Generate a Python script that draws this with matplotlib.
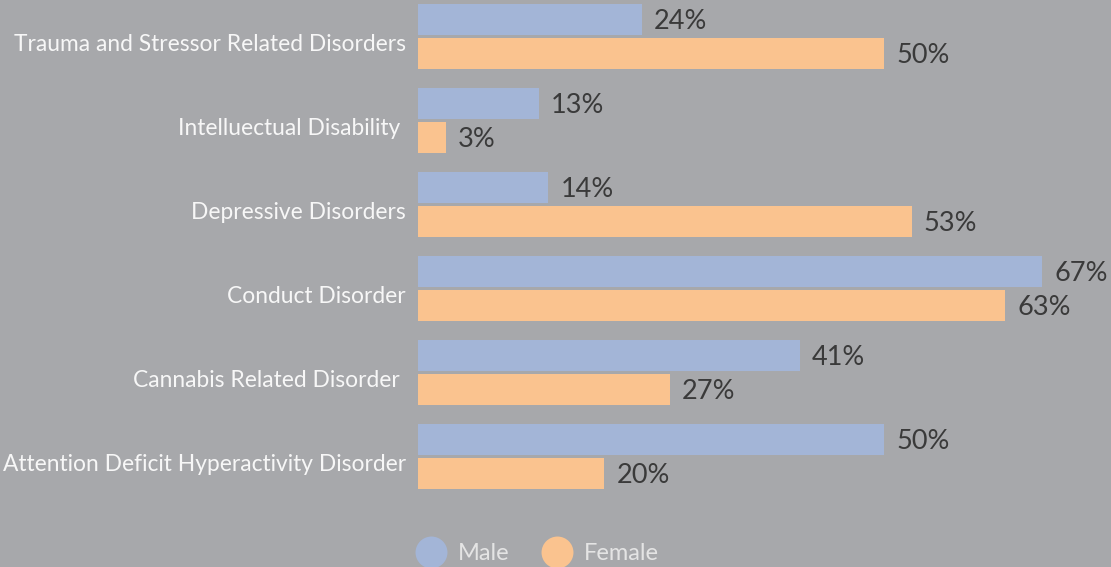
import matplotlib
matplotlib.use("Agg")
import matplotlib.pyplot as plt
from matplotlib.lines import Line2D

categories = [
    "Trauma and Stressor Related Disorders",
    "Intelluectual Disability ",
    "Depressive Disorders",
    "Conduct Disorder",
    "Cannabis Related Disorder ",
    "Attention Deficit Hyperactivity Disorder",
]
male = [24, 13, 14, 67, 41, 50]
female = [50, 3, 53, 63, 27, 20]
series_names = ["Male", "Female"]

BG = "#a7a8ab"
C_MALE = "#a3b5d7"
C_FEMALE = "#fac38f"
plt.rcParams['font.family'] = ['Lato', 'DejaVu Sans']

fig = plt.figure(figsize=(11.11, 5.67), dpi=100, facecolor=BG)
ax = fig.add_axes([418 / 1111, 1 - 504 / 567, 1 - 418 / 1111, 504 / 567])
ax.set_facecolor(BG)

pitch = 84.0
bh = 31 / pitch
off = 17 / pitch
ys = list(range(len(categories)))

ax.barh([y - off for y in ys], male, height=bh, color=C_MALE)
ax.barh([y + off for y in ys], female, height=bh, color=C_FEMALE)

px = 9.32  # pixels per unit
for y, m, f in zip(ys, male, female):
    ax.annotate(f"{m}%", (m, y - off), xytext=(12 * 0.72, -1.5), textcoords="offset points",
                va="center", ha="left", fontsize=19.5, color="#3a3a3a")
    ax.annotate(f"{f}%", (f, y + off), xytext=(12 * 0.72, -1.5), textcoords="offset points",
                va="center", ha="left", fontsize=19.5, color="#3a3a3a")
    ax.annotate(categories[y], (0, y + 0.09), xytext=(-12 * 0.72, 0), textcoords="offset points",
                va="center", ha="right", fontsize=16.4, color="#f7f7f7",
                annotation_clip=False)

ax.set_xlim(0, (1111 - 418) / px)
ax.set_ylim((504 - 36.5) / pitch, -36.5 / pitch)
ax.axis("off")

handles = [Line2D([], [], marker="o", linestyle="none", markersize=23, color=C_MALE, markeredgewidth=0),
           Line2D([], [], marker="o", linestyle="none", markersize=23, color=C_FEMALE, markeredgewidth=0)]
leg = fig.legend(handles, series_names, loc="center", bbox_to_anchor=(539 / 1111, 1 - 554 / 567),
                 ncol=2, frameon=False, fontsize=17, labelcolor="#e4e4e4",
                 handletextpad=0.64, columnspacing=1.5, handlelength=1.0,
                 borderpad=0, borderaxespad=0)

fig.savefig("out.png", dpi=100, facecolor=BG)
